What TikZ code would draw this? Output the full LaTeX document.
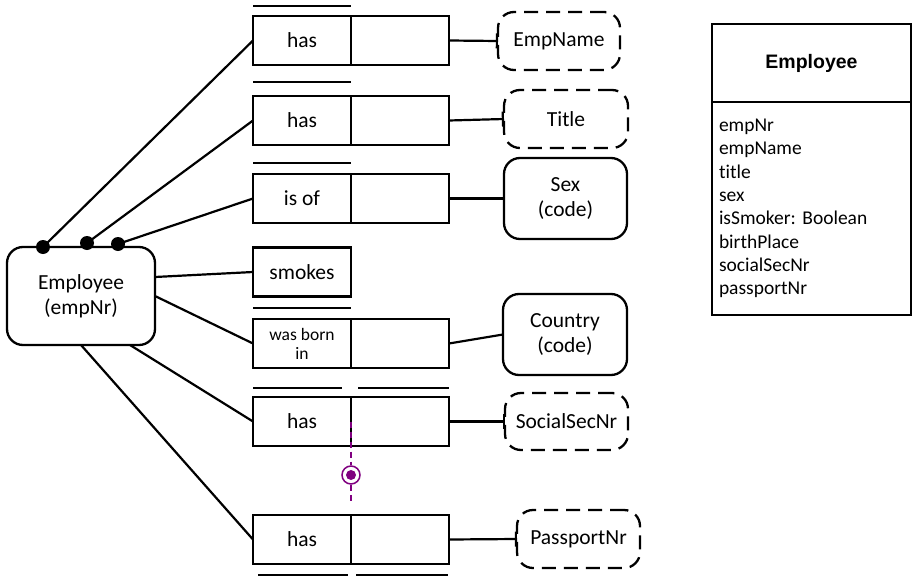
\documentclass[tikz,border=0pt]{standalone}
\usepackage{fontspec}
\setmainfont{Carlito}[Ligatures=NoCommon]
\newfontfamily\headfont{Liberation Sans}
\usetikzlibrary{arrows.meta, positioning}
\definecolor{xpurple}{RGB}{128,0,128}
\frenchspacing
\tikzset{
  entity/.style    = {draw, rounded corners=16pt, line width=2.3pt, align=center,
                      font=\fontsize{21.5}{25}\selectfont, inner sep=0pt, outer sep=0pt},
  valtype/.style   = {entity, dash pattern=on 14pt off 8pt},
  role/.style      = {draw, line width=2.3pt, minimum width=98pt, minimum height=49pt,
                      inner sep=0pt, outer sep=0pt, align=center,
                      font=\fontsize{21.5}{25}\selectfont},
  roledot/.style   = {circle, fill=black, inner sep=0pt, minimum size=14pt},
  link/.style      = {-, line width=2.2pt},
  reflink/.style   = {-{Bar[width=15pt]}, line width=2.2pt},
  uniq/.style      = {-, line width=2.2pt},
  xlink/.style     = {-, line width=1.5pt, xpurple, dash pattern=on 6pt off 4pt},
  xcons/.style     = {circle, draw=xpurple, line width=1.5pt, minimum size=18pt,
                      inner sep=0pt},
  classhead/.style = {draw, line width=1.5pt, minimum width=199pt, minimum height=78pt,
                      outer sep=0pt, font=\fontsize{19.5}{23}\selectfont\headfont\bfseries},
  classbody/.style = {draw, line width=1.5pt, minimum width=199pt, minimum height=213pt,
                      outer sep=0pt, text width=185pt, align=left,
                      font=\fontsize{19.5}{23.3}\selectfont},
}

\begin{document}
\begin{tikzpicture}[x=1pt, y=-1pt, node distance=0pt]
  \useasboundingbox (0,0) rectangle (912,578);

  \node[entity, minimum width=148pt, minimum height=98pt] (emp) at (81,296) {Employee\\(empNr)};

  % fact types
  \node[role] (r1a) at (302,40.5) {has};
  \node[role, right=of r1a] (r1b) {};
  \node[role] (r2a) at (302,120.5) {has};
  \node[role, right=of r2a] (r2b) {};
  \node[role] (r3a) at (302,198.5) {is of};
  \node[role, right=of r3a] (r3b) {};
  \node[role] (smk) at (302,272) {smokes};
  \node[role, font=\fontsize{17.5}{19}\selectfont] (r5a) at (302,343.5) {was born\\in};
  \node[role, right=of r5a] (r5b) {};
  \node[role] (r6a) at (302,421.5) {has};
  \node[role, right=of r6a] (r6b) {};
  \node[role] (r7a) at (302,539.5) {has};
  \node[role, right=of r7a] (r7b) {};

  % object and value types
  \node[valtype, minimum width=122pt, minimum height=58pt] (empName) at (559,41) {EmpName};
  \node[valtype, minimum width=124pt, minimum height=58pt] (title) at (566,119) {Title};
  \node[entity, minimum width=123pt, minimum height=81pt] (sex) at (565.5,198.5) {Sex\\(code)};
  \node[entity, minimum width=124pt, minimum height=81pt] (country) at (565,334.5) {Country\\(code)};
  \node[valtype, minimum width=123pt, minimum height=57pt] (socialSecNr) at (566.5,421.5) {SocialSecNr};
  \node[valtype, minimum width=123pt, minimum height=58pt] (passportNr) at (578.5,539) {PassportNr};

  % uniqueness bars
  \foreach \fact/\gap in {r1/10, r2/14, r3/11, r5/11}
    \draw[uniq] ([yshift=\gap pt]\fact a.north west) -- ([yshift=\gap pt]\fact a.north east);
  \draw[uniq] ([yshift=9pt]r6a.north west) -- ([yshift=9pt, xshift=-9pt]r6a.north east);
  \draw[uniq] ([yshift=9pt, xshift=7pt]r6b.north west) -- ([yshift=9pt]r6b.north east);
  \draw[uniq] ([yshift=-11pt, xshift=5pt]r7a.south west) -- ([yshift=-11pt, xshift=-3pt]r7a.south east);
  \draw[uniq] ([yshift=-11pt, xshift=5pt]r7b.south west) -- ([yshift=-11pt, xshift=-1pt]r7b.south east);

  % mandatory dots
  \node[roledot] (d1) at (43,247) {};
  \node[roledot] (d2) at (87,243) {};
  \node[roledot] (d3) at (118,244) {};

  \draw[link] (d1.center) -- (r1a.west);
  \draw[link] (d2.center) -- (r2a.west);
  \draw[link] (d3.center) -- (r3a.west);
  \draw[link] ([yshift=19pt]emp.east) -- (smk.west);
  \draw[link] (emp.east) -- (r5a.west);
  \draw[link] ([xshift=49pt]emp.south) -- (r6a.west);
  \draw[link] (emp.south) -- (r7a.west);

  \draw[reflink] (r1b.east) -- (empName.west);
  \draw[reflink] (r2b.east) -- (title.west);
  \draw[link] (r3b.east) -- (sex.west);
  \draw[link] (r5b.east) -- (country.west);
  \draw[reflink] (r6b.east) -- (socialSecNr.west);
  \draw[reflink] (r7b.east) -- (passportNr.west);

  % external uniqueness
  \node[xcons] (xc) at (351,475) {};
  \fill[xpurple] (xc.center) circle (5pt);
  \draw[xlink] (r6a.east) -- (xc);
  \draw[xlink] (xc) -- ([yshift=12pt]r7a.north east);

  % UML class
  \node[classhead] (clsHead) at (811.5,63) {Employee};
  \node[classbody, below=of clsHead] (clsBody) {empNr\\empName\\title\\sex\\isSmoker: Boolean\\birthPlace\\socialSecNr\\passportNr};
\end{tikzpicture}
\end{document}
